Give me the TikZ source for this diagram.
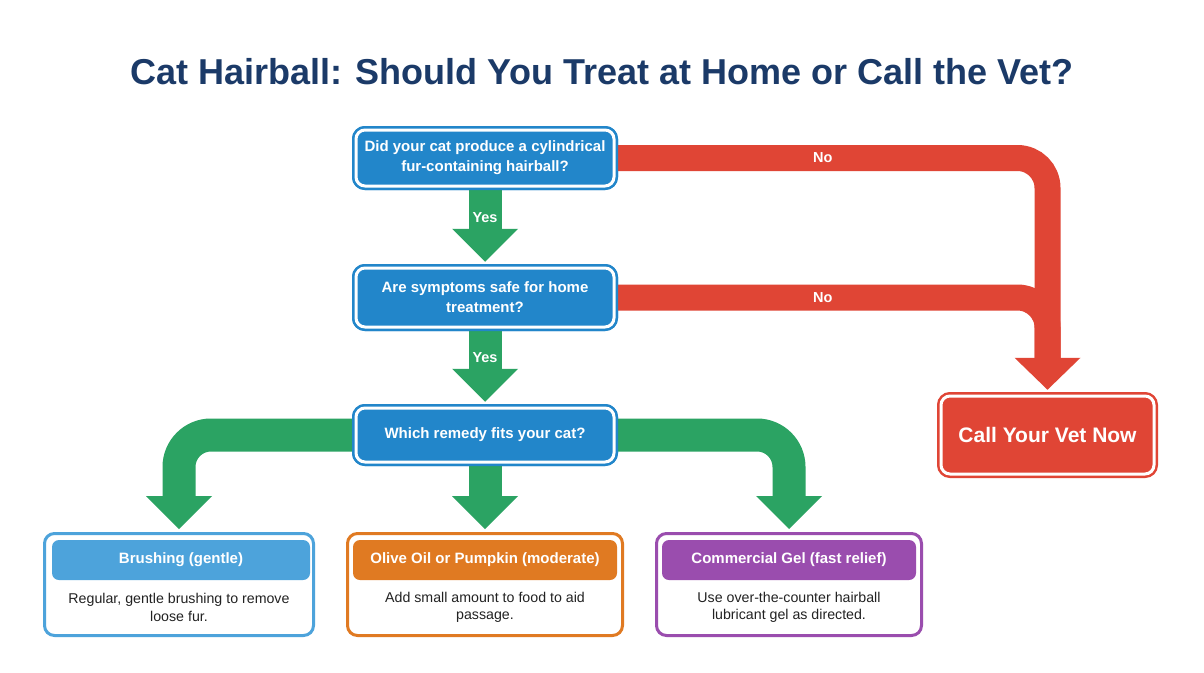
\documentclass[tikz,border=0pt]{standalone}
\usepackage{fontspec}
\setmainfont{Liberation Sans}
\usetikzlibrary{calc}
\definecolor{qblue}{HTML}{2286CA}
\definecolor{garrow}{HTML}{2BA363}
\definecolor{rarrow}{HTML}{E04535}
\definecolor{titlec}{HTML}{1B3A68}
\definecolor{cardblue}{HTML}{4DA3DB}
\definecolor{cardorange}{HTML}{E07A22}
\definecolor{cardpurple}{HTML}{9A4DAE}
\definecolor{bodytext}{HTML}{222222}
\newcommand\ghead[1]{\fill[garrow] ($(#1)+(-33,-33)$) -- (#1) -- ($(#1)+(33,-33)$) -- cycle;}
\newcommand\rhead[1]{\fill[rarrow] ($(#1)+(-33,-32)$) -- (#1) -- ($(#1)+(33,-32)$) -- cycle;}
\begin{document}
\begin{tikzpicture}[x=1pt,y=-1pt,
  question/.style={rectangle, rounded corners=9pt, draw=qblue, line width=2.5pt, double=white, double distance=3pt, fill=qblue, text=white, font=\bfseries\fontsize{15}{20}\selectfont, align=center, inner sep=0pt, minimum width=258pt},
  vetbox/.style={rectangle, rounded corners=9pt, draw=rarrow, line width=2.5pt, double=white, double distance=3pt, fill=rarrow, text=white, font=\bfseries\fontsize{21}{24}\selectfont, inner sep=0pt, minimum width=213pt, minimum height=78pt},
  card/.style={rectangle, rounded corners=10pt, line width=3pt, fill=white, inner sep=0pt, minimum height=102pt},
  cardhead/.style={rectangle, rounded corners=7pt, text=white, font=\bfseries\fontsize{15}{17}\selectfont, minimum height=40pt, inner sep=0pt},
  cardbody/.style={text=bodytext, font=\fontsize{14.2}{17.5}\selectfont, align=center, inner sep=0pt},
  gline/.style={draw=garrow, line width=33pt},
  rline/.style={draw=rarrow, line width=26pt},
  lbl/.style={text=white, font=\bfseries\fontsize{14.5}{16}\selectfont, inner sep=0pt}
]
\fill[white] (0,0) rectangle (1204,672);
\useasboundingbox (0,0) rectangle (1204,672);

\node[font=\bfseries\fontsize{36}{40}\selectfont, text=titlec] (title) at (602,72) {Cat Hairball: Should You Treat at Home or Call the Vet?};

% nodes
\node[question, minimum height=56pt] (q1) at (485,158) {Did your cat produce a cylindrical\\fur-containing hairball?};
\node[question, minimum height=59pt] (q2) at (485,297.5) {Are symptoms safe for home\\treatment?};
\node[question, minimum height=54pt] (q3) at (485,435) {Which remedy fits your cat?};
\node[vetbox] (vet) at (1047.5,435) {Call Your Vet Now};

\node[card, draw=cardblue, minimum width=269pt] (k1) at (179,584.5) {};
\node[card, draw=cardorange, minimum width=275pt] (k2) at (485,584.5) {};
\node[card, draw=cardpurple, minimum width=265pt] (k3) at (789,584.5) {};

% connectors
\coordinate (t1) at ($(q2.north)+(0,-5)$);
\coordinate (t2) at ($(q3.north)+(0,-5)$);
\coordinate (vt) at ($(vet.north)+(0,-5)$);
\coordinate (g1) at ($(k1.north)+(0,-3)$);
\coordinate (g2) at ($(k2.north)+(0,-3)$);
\coordinate (g3) at ($(k3.north)+(0,-3)$);

\draw[rline, rounded corners=30pt] (q1.east) -| node[lbl, pos=0.24] {No} ($(vt)+(0,-31)$);
\draw[rline, rounded corners=30pt] (q2.east) -| node[lbl, pos=0.24] {No} ($(vt)+(0,-31)$);
\rhead{vt}

\draw[gline] (q1.south) -- node[lbl, pos=0.7] {Yes} ($(t1)+(0,-31)$);
\ghead{t1}
\draw[gline] (q2.south) -- node[lbl, pos=0.7] {Yes} ($(t2)+(0,-31)$);
\ghead{t2}

\draw[gline, rounded corners=32pt] (q3.west) -| ($(g1)+(0,-31)$);
\ghead{g1}
\draw[gline] (q3.south) -- ($(g2)+(0,-31)$);
\ghead{g2}
\draw[gline, rounded corners=32pt] (q3.east) -| ($(g3)+(0,-31)$);
\ghead{g3}

% boxes drawn again over the connector ends
\node[question, minimum height=56pt] at (q1) {Did your cat produce a cylindrical\\fur-containing hairball?};
\node[question, minimum height=59pt] at (q2) {Are symptoms safe for home\\treatment?};
\node[question, minimum height=54pt] at (q3) {Which remedy fits your cat?};

\node[cardhead, fill=cardblue, minimum width=258pt] (h1) at (181,560) {Brushing (gentle)};
\node[cardbody] (b1) at (179,607.5) {Regular, gentle brushing to remove\\loose fur.};
\node[cardhead, fill=cardorange, minimum width=264pt] (h2) at (485,560) {Olive Oil or Pumpkin (moderate)};
\node[cardbody] (b2) at (485,607.5) {Add small amount to food to aid\\passage.};
\node[cardhead, fill=cardpurple, minimum width=254pt] (h3) at (789,560) {Commercial Gel (fast relief)};
\node[cardbody] (b3) at (789,607.5) {Use over-the-counter hairball\\lubricant gel as directed.};
\end{tikzpicture}
\end{document}
